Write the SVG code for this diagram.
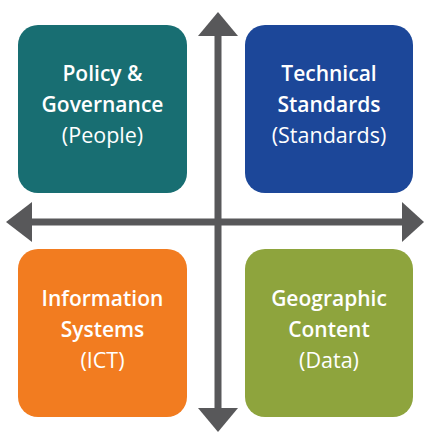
<svg xmlns="http://www.w3.org/2000/svg" width="425" height="434" viewBox="0 0 425 434">
<style>
.t{font-family:"Open Sans","Noto Sans","Liberation Sans",sans-serif;fill:#ffffff;text-anchor:middle}
.b{font-weight:600;font-size:21px}
.r{font-weight:400;font-size:21.5px}
.ax{stroke:#58585a;stroke-width:7;fill:none}
.hd{fill:#58585a}
</style>
<rect width="425" height="434" fill="#ffffff"/>
<g id="connectors">
<line class="ax" x1="218" y1="30" x2="218" y2="412"/>
<line class="ax" x1="28" y1="222" x2="407" y2="222"/>
<polygon class="hd" points="218,12 238,36 198,36"/>
<polygon class="hd" points="218,432 238,408 198,408"/>
<polygon class="hd" points="6,222 32,202 32,242"/>
<polygon class="hd" points="424,222 402,202 402,242"/>
</g>
<g id="policy">
<rect x="18" y="25" width="169" height="168" rx="20" fill="#186e72"/>
<text class="t b" x="102.5" y="81">Policy &amp;</text>
<text class="t b" x="102.5" y="112">Governance</text>
<text class="t r" x="102.5" y="143">(People)</text>
</g>
<g id="technical">
<rect x="245" y="25" width="168" height="168" rx="20" fill="#1c4799"/>
<text class="t b" x="329" y="81">Technical</text>
<text class="t b" x="329" y="112">Standards</text>
<text class="t r" x="329" y="143">(Standards)</text>
</g>
<g id="information">
<rect x="18" y="249" width="169" height="168" rx="20" fill="#f27c20"/>
<text class="t b" x="102.5" y="306">Information</text>
<text class="t b" x="102.5" y="337">Systems</text>
<text class="t r" x="102.5" y="368">(ICT)</text>
</g>
<g id="geographic">
<rect x="245" y="249" width="168" height="168" rx="20" fill="#8ea43d"/>
<text class="t b" x="329" y="306">Geographic</text>
<text class="t b" x="329" y="337">Content</text>
<text class="t r" x="329" y="368">(Data)</text>
</g>
</svg>
